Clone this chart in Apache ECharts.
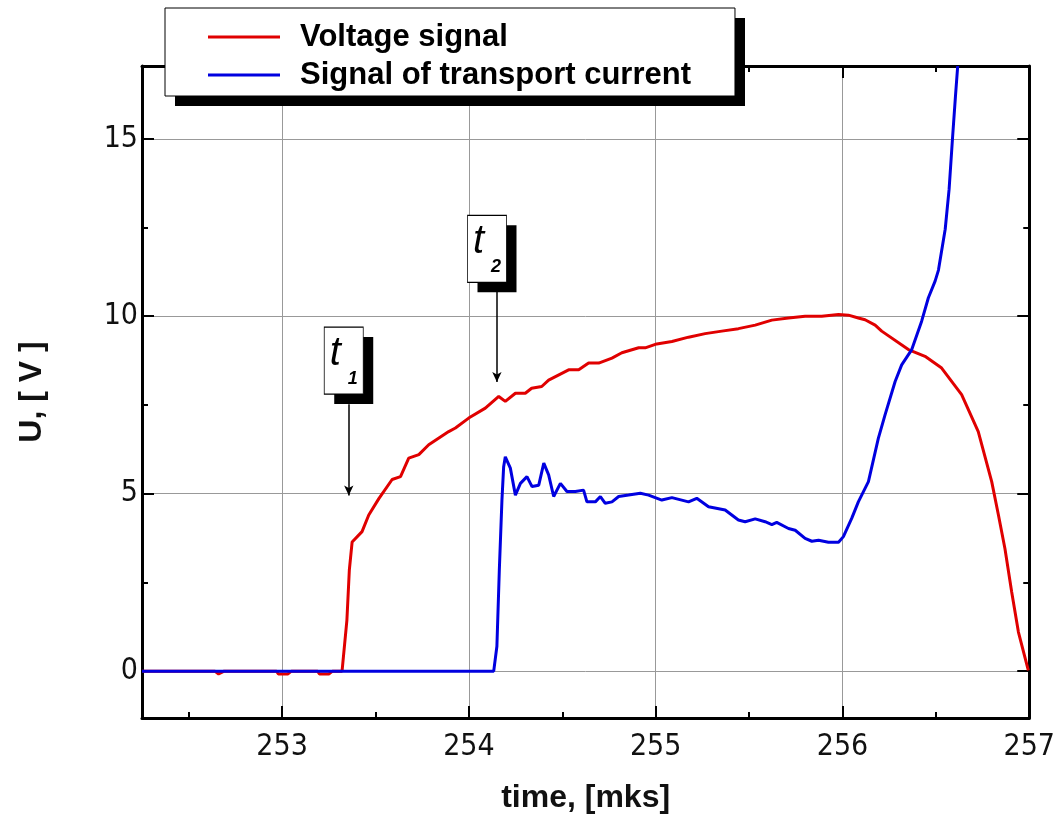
<!DOCTYPE html>
<html><head><meta charset="utf-8">
<script src="https://cdn.jsdelivr.net/npm/echarts@6/dist/echarts.min.js"></script>
<style>html,body{margin:0;padding:0;background:#fff}#c{width:1058px;height:823px}</style>
</head><body><div id="c"></div>
<script>
// ---- data ----
const seriesNames = ['Voltage signal', 'Signal of transport current'];
const xRange = [252.25, 257];
const yRange = [-1.32, 17.05];
const xLabel = 'time, [mks]';
const yLabel = 'U, [ V ]';

const voltageT = [252.25, 252.64, 252.66, 252.69, 252.97, 252.98, 253.03, 253.05, 253.19, 253.2, 253.25, 253.27,
  253.321, 253.347, 253.36, 253.375, 253.428, 253.464, 253.518, 253.589, 253.634, 253.678, 253.732, 253.785,
  253.892, 253.928, 253.999, 254.088, 254.16, 254.195, 254.249, 254.302, 254.336, 254.39, 254.427, 254.534,
  254.588, 254.641, 254.695, 254.766, 254.819, 254.909, 254.944, 255.006, 255.087, 255.176, 255.265, 255.354,
  255.443, 255.533, 255.622, 255.711, 255.8, 255.889, 255.979, 256.032, 256.085, 256.121, 256.175, 256.21,
  256.353, 256.442, 256.531, 256.638, 256.727, 256.799, 256.835, 256.87, 256.906, 256.942, 256.995];
const voltageU = [0, 0, -0.08, 0, 0, -0.08, -0.08, 0, 0, -0.08, -0.08, 0,
  0, 1.44, 2.85, 3.64, 3.93, 4.4, 4.86, 5.4, 5.48, 6.0, 6.1, 6.38,
  6.75, 6.85, 7.13, 7.41, 7.74, 7.6, 7.83, 7.83, 7.97, 8.02, 8.2, 8.49,
  8.49, 8.68, 8.68, 8.82, 8.97, 9.11, 9.11, 9.22, 9.29, 9.41, 9.51, 9.58,
  9.65, 9.75, 9.89, 9.95, 10.0, 10.0, 10.05, 10.03, 9.95, 9.9, 9.75, 9.58,
  9.06, 8.87, 8.54, 7.79, 6.75, 5.34, 4.4, 3.45, 2.23, 1.1, 0.02];

const currentT = [252.25, 254.133, 254.15, 254.163, 254.177, 254.186, 254.195, 254.222, 254.249, 254.276, 254.311,
  254.338, 254.374, 254.401, 254.427, 254.454, 254.49, 254.525, 254.57, 254.614, 254.632, 254.677, 254.704,
  254.73, 254.766, 254.802, 254.855, 254.918, 254.962, 255.033, 255.087, 255.176, 255.22, 255.283, 255.372,
  255.443, 255.479, 255.533, 255.586, 255.622, 255.648, 255.711, 255.747, 255.8, 255.836, 255.872, 255.925,
  255.979, 256.005, 256.05, 256.085, 256.139, 256.192, 256.228, 256.282, 256.317, 256.371, 256.424, 256.46,
  256.496, 256.514, 256.55, 256.571, 256.589, 256.605, 256.617];
const currentU = [0, 0, 0.7, 2.85, 4.82, 5.75, 6.04, 5.72, 4.96, 5.29, 5.48,
  5.2, 5.24, 5.86, 5.53, 4.92, 5.29, 5.06, 5.06, 5.1, 4.77, 4.77, 4.92,
  4.73, 4.77, 4.92, 4.96, 5.01, 4.96, 4.82, 4.89, 4.77, 4.87, 4.63, 4.54,
  4.26, 4.21, 4.29, 4.21, 4.13, 4.19, 4.02, 3.97, 3.74, 3.66, 3.69, 3.63,
  3.63, 3.79, 4.31, 4.77, 5.34, 6.56, 7.22, 8.16, 8.63, 9.06, 9.86, 10.52,
  10.99, 11.3, 12.45, 13.58, 15.0, 16.2, 17.05];

// annotation markers (data coordinates)
const markerNames = ['1', '2'];
const markerBox = [[253.33, 8.75], [254.097, 11.9]];
const arrowFrom = [[253.357, 7.52], [254.15, 10.7]];
const arrowTo = [[253.357, 4.95], [254.15, 8.15]];

// ---- chart ----
const pairs = (t, u) => t.map((v, i) => [v, u[i]]);
const FONT = "'Liberation Sans Narrow', 'Arial Narrow', 'DejaVu Sans Condensed', 'Liberation Sans', Arial, sans-serif";
const FONTB = "'Liberation Sans', Arial, sans-serif";
const chart = echarts.init(document.getElementById('c'), null, {renderer: 'canvas'});

const frameLine = {show: true, onZero: false, lineStyle: {color: '#000', width: 3}};
const tickMajor = {show: true, inside: true, length: 12, lineStyle: {color: '#000', width: 2}};
const tickMinor = {show: true, splitNumber: 2, length: 6, lineStyle: {color: '#000', width: 2}};

const boxData = [];
markerBox.forEach((c, i) => {
  boxData.push({coord: c, symbolOffset: [10, 10], itemStyle: {color: '#000', borderWidth: 0}, label: {show: false}});
  boxData.push({name: markerNames[i], coord: c});
});

const option = {
  animation: false,
  backgroundColor: '#fff',
  grid: {left: 142, right: 27, top: 66, bottom: 105, containLabel: false},
  graphic: [{
    type: 'rect', left: 175, top: 18, z: 4, silent: true,
    shape: {width: 570, height: 88}, style: {fill: '#000'}
  }],
  legend: {
    left: 165, top: 8, orient: 'vertical', z: 5,
    padding: [12, 44, 4, 43],
    icon: 'rect', itemWidth: 72, itemHeight: 3, itemGap: 4,
    backgroundColor: '#fff', borderColor: '#000', borderWidth: 1,
    textStyle: {fontFamily: FONTB, fontWeight: 'bold', fontSize: 31, color: '#000', lineHeight: 34, padding: [0, 0, 0, 15]},
    data: seriesNames
  },
  xAxis: [{
    type: 'value', position: 'bottom', min: xRange[0], max: xRange[1], minInterval: 1, maxInterval: 1,
    axisLine: frameLine, axisTick: tickMajor, minorTick: tickMinor,
    splitLine: {show: true, lineStyle: {color: '#999', width: 1}},
    axisLabel: {showMinLabel: false, margin: 14, fontFamily: FONT, fontSize: 30, color: '#111'},
    name: xLabel, nameLocation: 'middle', nameGap: 64,
    nameTextStyle: {fontFamily: FONTB, fontWeight: 'bold', fontSize: 32, color: '#111'}
  }, {
    type: 'value', position: 'top', min: xRange[0], max: xRange[1], minInterval: 1, maxInterval: 1,
    axisLine: frameLine, axisTick: tickMajor, minorTick: tickMinor,
    splitLine: {show: false}, axisLabel: {show: false}
  }],
  yAxis: [{
    type: 'value', position: 'left', min: yRange[0], max: yRange[1], minInterval: 5, maxInterval: 5,
    axisLine: frameLine, axisTick: tickMajor, minorTick: tickMinor,
    splitLine: {show: true, lineStyle: {color: '#999', width: 1}},
    axisLabel: {showMinLabel: false, showMaxLabel: false, margin: 4, fontFamily: FONT, fontSize: 30, color: '#111'},
    name: yLabel, nameLocation: 'middle', nameGap: 94, nameRotate: 90,
    nameTextStyle: {fontFamily: FONTB, fontWeight: 'bold', fontSize: 32, color: '#111'}
  }, {
    type: 'value', position: 'right', min: yRange[0], max: yRange[1], minInterval: 5, maxInterval: 5,
    axisLine: frameLine, axisTick: tickMajor, minorTick: tickMinor,
    splitLine: {show: false}, axisLabel: {show: false}
  }],
  series: [{
    name: seriesNames[0], type: 'line', symbol: 'none', xAxisIndex: 0, yAxisIndex: 0,
    lineStyle: {color: '#e00000', width: 3}, itemStyle: {color: '#e00000'},
    data: pairs(voltageT, voltageU), z: 3,
    markLine: {
      silent: true, symbol: ['none', 'arrow'], symbolSize: [7, 10],
      lineStyle: {color: '#000', width: 1.5, type: 'solid'}, label: {show: false},
      data: arrowFrom.map((a, i) => [{coord: a}, {coord: arrowTo[i]}])
    },
    markPoint: {
      silent: true, symbol: 'rect', symbolSize: [39, 67],
      itemStyle: {color: '#fff', borderColor: '#000', borderWidth: 1},
      label: {
        show: true, position: 'inside',
        formatter: p => '{t|t}{s|' + p.name + '}',
        rich: {
          t: {fontFamily: FONTB, fontStyle: 'italic', fontSize: 40, color: '#000', padding: [0, 7, 14, 0], verticalAlign: 'bottom'},
          s: {fontFamily: FONTB, fontStyle: 'italic', fontWeight: 'bold', fontSize: 18, color: '#000', verticalAlign: 'bottom'}
        }
      },
      data: boxData
    }
  }, {
    name: seriesNames[1], type: 'line', symbol: 'none', xAxisIndex: 0, yAxisIndex: 0,
    lineStyle: {color: '#0000e0', width: 3}, itemStyle: {color: '#0000e0'},
    data: pairs(currentT, currentU), z: 3
  }]
};
chart.setOption(option);
</script>
</body></html>
